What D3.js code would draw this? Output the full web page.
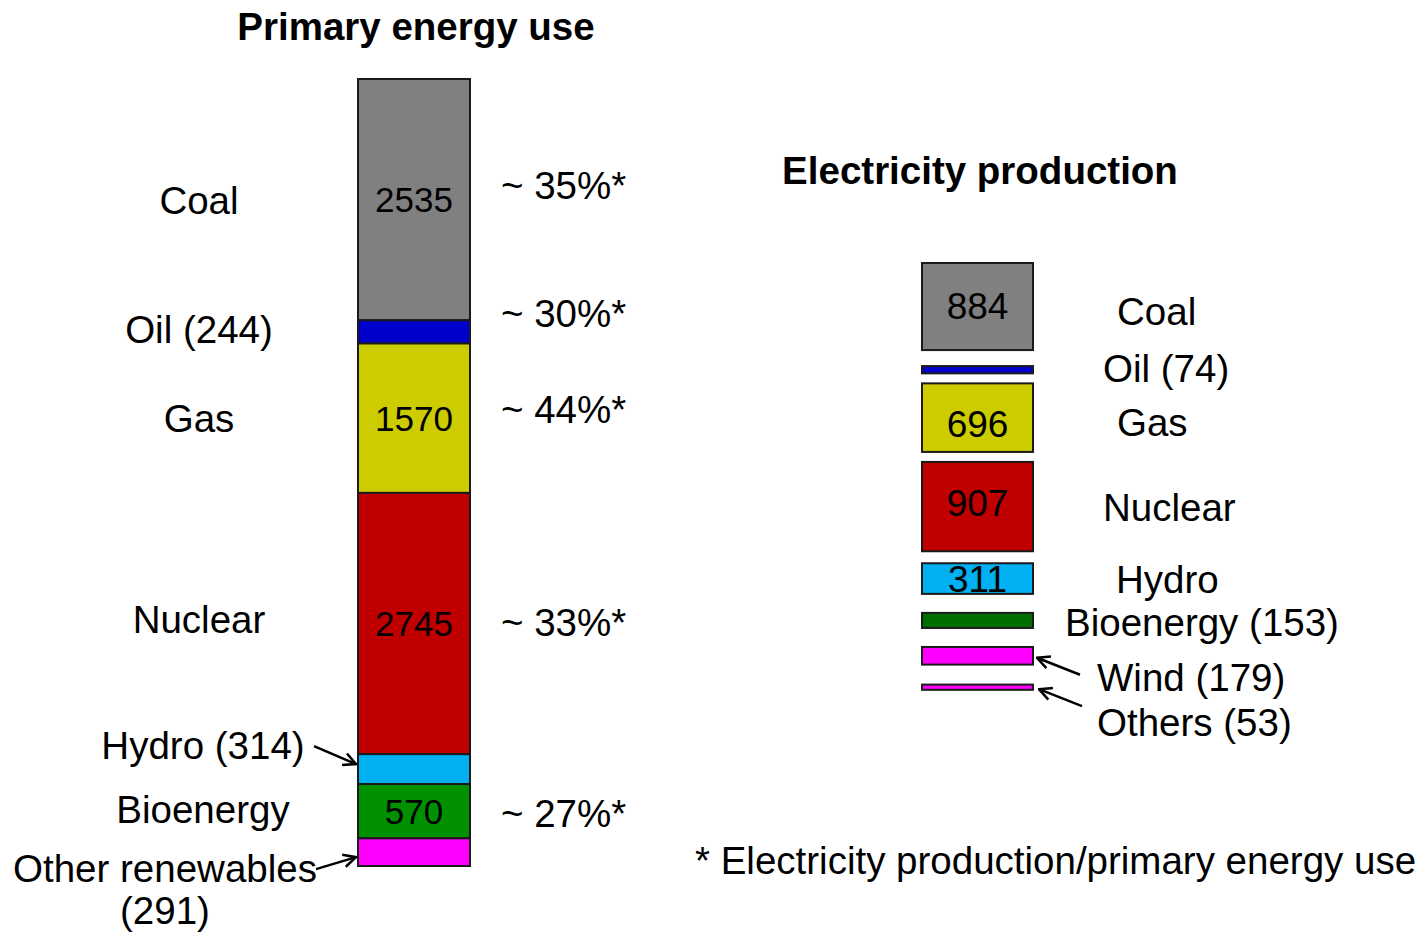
<!DOCTYPE html>
<html>
<head>
<meta charset="utf-8">
<script src="https://cdn.jsdelivr.net/npm/d3@7"></script>
<style>
  body { margin: 0; background: #fff; }
  text { font-family: "Liberation Sans", Arial, sans-serif; fill: #000; }
</style>
</head>
<body>
<div id="chart"></div>
<script>
// data: primary energy use (left) and electricity production (right)
var primaryNames = ["Coal", "Oil", "Gas", "Nuclear", "Hydro", "Bioenergy", "Other renewables"];
var primaryValues = [2535, 244, 1570, 2745, 314, 570, 291];
var primaryColors = ["#808080", "#0000CC", "#CCCC00", "#C00000", "#00B0F0", "#009000", "#FF00FF"];

var elecNames = ["Coal", "Oil", "Gas", "Nuclear", "Hydro", "Bioenergy", "Wind", "Others"];
var elecValues = [884, 74, 696, 907, 311, 153, 179, 53];
var elecColors = ["#808080", "#0000CC", "#CCCC00", "#C00000", "#00B0F0", "#006F00", "#FF00FF", "#FF00FF"];

// electricity / primary energy use, per source
var shareSources = ["Coal", "Oil", "Gas", "Nuclear", "Bioenergy"];
var shareValues = [35, 30, 44, 33, 27];

var svgWidth = 1418;
var svgHeight = 933;
var fontSize = "38.5px";

var svg = d3.select("#chart")
    .append("svg")
    .attr("width", svgWidth)
    .attr("height", svgHeight);

// arrow head
svg.append("defs").append("marker")
    .attr("id", "arrow")
    .attr("viewBox", "0 0 12 12")
    .attr("refX", 11)
    .attr("refY", 6)
    .attr("markerWidth", 15)
    .attr("markerHeight", 15)
    .attr("markerUnits", "userSpaceOnUse")
    .attr("orient", "auto")
    .append("path")
    .attr("d", "M1,1 L11,6 L1,11")
    .attr("fill", "none")
    .attr("stroke", "#000")
    .attr("stroke-width", 2);

// ---------- left stacked bar ----------
var leftX = 358, barW = 112;
var primaryTotal = d3.sum(primaryValues);
var yLeft = d3.scaleLinear().domain([0, primaryTotal]).range([79, 866]);

var cum = 0;
var primary = primaryNames.map(function (n, i) {
    var d = { name: n, value: primaryValues[i], color: primaryColors[i], y0: cum, y1: cum + primaryValues[i] };
    cum += primaryValues[i];
    return d;
});

var leftG = svg.append("g");

leftG.selectAll("rect")
    .data(primary)
    .enter()
    .append("rect")
    .attr("x", leftX)
    .attr("y", d => yLeft(d.y0))
    .attr("width", barW)
    .attr("height", d => yLeft(d.y1) - yLeft(d.y0))
    .attr("fill", d => d.color)
    .attr("stroke", "#1a1a1a")
    .attr("stroke-width", 2);

// numbers inside bar
var leftInside = ["Coal", "Gas", "Nuclear", "Bioenergy"];
leftG.selectAll(".val")
    .data(primary.filter(d => leftInside.indexOf(d.name) >= 0))
    .enter()
    .append("text")
    .attr("x", leftX + barW / 2)
    .attr("y", d => (yLeft(d.y0) + yLeft(d.y1)) / 2)
    .attr("dy", "0.36em")
    .attr("text-anchor", "middle")
    .style("font-size", "35px")
    .text(d => d.value);

// category labels on the left
var leftLabel = {
    "Coal": { text: "Coal", dy: 1 },
    "Oil": { text: "Oil (244)", dy: -3 },
    "Gas": { text: "Gas", dy: 0 },
    "Nuclear": { text: "Nuclear", dy: -4 },
    "Hydro": { text: "Hydro (314)", dy: -24, dx: 4 },
    "Bioenergy": { text: "Bioenergy", dy: -2, dx: 4 },
    "Other renewables": { text: "Other renewables", dy: 16, dx: -34 }
};
primary.forEach(function (d) {
    var l = leftLabel[d.name];
    leftG.append("text")
        .attr("x", 199 + (l.dx || 0))
        .attr("y", (yLeft(d.y0) + yLeft(d.y1)) / 2 + l.dy)
        .attr("dy", "0.36em")
        .attr("text-anchor", "middle")
        .style("font-size", fontSize)
        .text(l.text);
    if (d.name === "Other renewables") {
        leftG.append("text")
            .attr("x", 199 + l.dx)
            .attr("y", (yLeft(d.y0) + yLeft(d.y1)) / 2 + l.dy + 42)
            .attr("dy", "0.36em")
            .attr("text-anchor", "middle")
            .style("font-size", fontSize)
            .text("(" + d.value + ")");
    }
});

// arrows to thin segments
function segMid(d) { return (yLeft(d.y0) + yLeft(d.y1)) / 2; }
var hydro = primary[4], other = primary[6];
leftG.append("line")
    .attr("x1", 314).attr("y1", segMid(hydro) - 23)
    .attr("x2", leftX - 2).attr("y2", segMid(hydro) - 5)
    .attr("stroke", "#000").attr("stroke-width", 2.5)
    .attr("marker-end", "url(#arrow)");
leftG.append("line")
    .attr("x1", 316).attr("y1", segMid(other) + 17)
    .attr("x2", leftX - 2).attr("y2", segMid(other) + 5)
    .attr("stroke", "#000").attr("stroke-width", 2.5)
    .attr("marker-end", "url(#arrow)");

// share labels
var shareOffset = { "Coal": -14, "Oil": -19, "Gas": -9, "Nuclear": -1, "Bioenergy": 2 };
shareSources.forEach(function (s, i) {
    var d = primary.find(p => p.name === s);
    leftG.append("text")
        .attr("x", 501)
        .attr("y", segMid(d) + shareOffset[s])
        .attr("dy", "0.36em")
        .style("font-size", fontSize)
        .text("~ " + shareValues[i] + "%*");
});

svg.append("text")
    .attr("x", 416).attr("y", 40)
    .attr("text-anchor", "middle")
    .style("font-size", fontSize)
    .style("font-weight", "bold")
    .text("Primary energy use");

// ---------- right separated bars ----------
var rightX = 922, rightW = 111;
var gaps = [16, 10, 10, 12, 19, 19, 20];
var kRight = d3.scaleLinear().domain([0, 1000]).range([0, 98.5]);

var yPos = 263;
var elec = elecNames.map(function (n, i) {
    var h = kRight(elecValues[i]);
    var d = { name: n, value: elecValues[i], color: elecColors[i], top: yPos, h: h };
    yPos += h + (gaps[i] || 0);
    return d;
});

var rightG = svg.append("g");
rightG.selectAll("rect")
    .data(elec)
    .enter()
    .append("rect")
    .attr("x", rightX)
    .attr("y", d => d.top)
    .attr("width", rightW)
    .attr("height", d => d.h)
    .attr("fill", d => d.color)
    .attr("stroke", "#1a1a1a")
    .attr("stroke-width", 2);

var rightInside = ["Coal", "Gas", "Nuclear", "Hydro"];
var insideShift = { "Coal": -1, "Gas": 6, "Nuclear": -4, "Hydro": 0 };
rightG.selectAll(".val")
    .data(elec.filter(d => rightInside.indexOf(d.name) >= 0))
    .enter()
    .append("text")
    .attr("x", rightX + rightW / 2)
    .attr("y", d => d.top + d.h / 2 + insideShift[d.name])
    .attr("dy", "0.36em")
    .attr("text-anchor", "middle")
    .style("font-size", "37px")
    .text(d => d.value);

var rightLabel = {
    "Coal": { text: "Coal", x: 1117, dy: 5 },
    "Oil": { text: "Oil (74)", x: 1103, dy: -2 },
    "Gas": { text: "Gas", x: 1117, dy: 4 },
    "Nuclear": { text: "Nuclear", x: 1103, dy: 1 },
    "Hydro": { text: "Hydro", x: 1116, dy: 1 },
    "Bioenergy": { text: "Bioenergy (153)", x: 1065, dy: 2 },
    "Wind": { text: "Wind (179)", x: 1097, dy: 21 },
    "Others": { text: "Others (53)", x: 1097, dy: 35 }
};
elec.forEach(function (d) {
    var l = rightLabel[d.name];
    rightG.append("text")
        .attr("x", l.x)
        .attr("y", d.top + d.h / 2 + l.dy)
        .attr("dy", "0.36em")
        .style("font-size", fontSize)
        .text(l.text);
});

var wind = elec[6], others = elec[7];
rightG.append("line")
    .attr("x1", 1080).attr("y1", wind.top + wind.h / 2 + 19)
    .attr("x2", rightX + rightW + 4).attr("y2", wind.top + wind.h / 2 + 2)
    .attr("stroke", "#000").attr("stroke-width", 2.5)
    .attr("marker-end", "url(#arrow)");
rightG.append("line")
    .attr("x1", 1082).attr("y1", others.top + others.h / 2 + 19)
    .attr("x2", rightX + rightW + 6).attr("y2", others.top + others.h / 2 + 2)
    .attr("stroke", "#000").attr("stroke-width", 2.5)
    .attr("marker-end", "url(#arrow)");

svg.append("text")
    .attr("x", 980).attr("y", 184)
    .attr("text-anchor", "middle")
    .style("font-size", fontSize)
    .style("font-weight", "bold")
    .text("Electricity production");

svg.append("text")
    .attr("x", 695).attr("y", 874)
    .style("font-size", fontSize)
    .text("* Electricity production/primary energy use");
</script>
</body>
</html>
